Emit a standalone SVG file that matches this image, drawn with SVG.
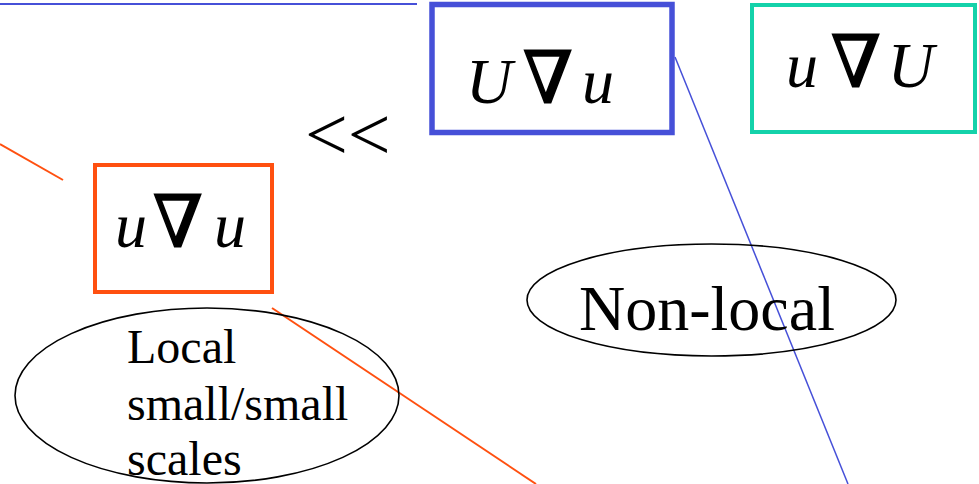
<svg xmlns="http://www.w3.org/2000/svg" width="979" height="484" viewBox="0 0 979 484">
<style>
.t{font-family:"Liberation Serif","Times New Roman",serif;fill:#000}
.m{font-family:"Liberation Serif","Times New Roman",serif;font-size:64px;font-style:italic;fill:#000}
.n{font-family:"DejaVu Serif",serif;font-size:72px;font-weight:normal;fill:#000;stroke:#000;stroke-width:1.5}
.ell{fill:none;stroke:#000;stroke-width:1.6}
</style>
<rect width="979" height="484" fill="#fff"/>
<g id="connectors" fill="none">
<line x1="0" y1="4" x2="417" y2="4" stroke="#4650D8" stroke-width="2"/>
<line x1="675" y1="57" x2="848" y2="484" stroke="#4650D8" stroke-width="1.5"/>
<line x1="0" y1="144" x2="63" y2="180" stroke="#FF5010" stroke-width="2"/>
<line x1="272" y1="308" x2="536" y2="484" stroke="#FF5010" stroke-width="2"/>
</g>
<g id="node-UgradU">
<rect x="432" y="4.5" width="240" height="128" fill="none" stroke="#4650D8" stroke-width="5.5"/>
<text class="m" x="466" y="103">U</text>
<text class="n" x="548" y="103" text-anchor="middle">∇</text>
<text class="m" x="614" y="103" text-anchor="end">u</text>
</g>
<g id="node-ugradU">
<rect x="752" y="5" width="223" height="127" fill="none" stroke="#14D2AA" stroke-width="4"/>
<text class="m" x="786" y="87">u</text>
<text class="n" x="856" y="87" text-anchor="middle">∇</text>
<text class="m" x="934" y="87" text-anchor="end">U</text>
</g>
<g id="node-ugradu">
<rect x="95" y="165" width="177" height="127" fill="none" stroke="#FF5010" stroke-width="4"/>
<text class="m" x="115" y="247">u</text>
<text class="n" x="178" y="247" text-anchor="middle">∇</text>
<text class="m" x="246" y="247" text-anchor="end">u</text>
</g>
<g id="label-ll">
<text class="t" x="305" y="160" font-size="76">&lt;&lt;</text>
</g>
<g id="node-local">
<ellipse class="ell" cx="207" cy="395.5" rx="192" ry="87.5"/>
<text class="t" font-size="48" x="127" y="363">Local</text>
<text class="t" font-size="48" x="127" y="420">small/small</text>
<text class="t" font-size="48" x="127" y="475">scales</text>
</g>
<g id="node-nonlocal">
<ellipse class="ell" cx="711.5" cy="300" rx="184.5" ry="56"/>
<text class="t" font-size="64" x="579" y="330">Non-local</text>
</g>
</svg>
